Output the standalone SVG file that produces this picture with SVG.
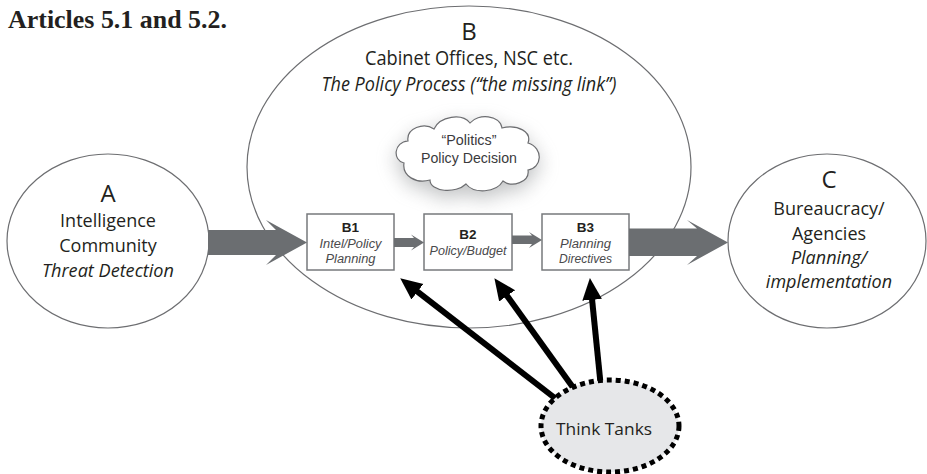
<svg xmlns="http://www.w3.org/2000/svg" width="927" height="474" viewBox="0 0 927 474">
  <style>
    .t { font-family: "Open Sans", "Noto Sans", sans-serif; fill: #231f20; text-anchor: middle; }
    .s { font-family: "Liberation Sans", Arial, sans-serif; text-anchor: middle; }
    .it { font-style: italic; }
    .big { font-size: 24px; }
    .lbl { font-size: 18px; }
    .mid { font-size: 20px; }
    .box { fill: #ffffff; stroke: #77797c; stroke-width: 1.5; }
    .boxhead { font-size: 13.5px; font-weight: bold; fill: #231f20; }
    .boxtxt { font-size: 12px; font-style: italic; fill: #4a4a4c; }
    .cloudtxt { font-size: 15px; fill: #3a3a3c; }
    .oval { fill: #ffffff; stroke: #6d6e71; stroke-width: 1.2; }
    .flow { fill: #6b6e71; }
    .push { stroke: #000000; stroke-width: 6; fill: none; marker-end: url(#head); }
  </style>
  <defs>
    <marker id="head" markerUnits="userSpaceOnUse" markerWidth="24" markerHeight="24" viewBox="0 -10 22 20" refX="9" refY="0" orient="auto">
      <path d="M0,-9 L20,0 L0,9 Z" fill="#000000"/>
    </marker>
    <filter id="glow" x="-50%" y="-50%" width="200%" height="200%">
      <feGaussianBlur stdDeviation="10"/>
    </filter>
  </defs>

  <rect width="927" height="474" fill="#ffffff"/>

  <!-- heading -->
  <text x="8" y="28" font-family="Liberation Serif, serif" font-weight="bold" font-size="25" fill="#231f20" textLength="219" lengthAdjust="spacingAndGlyphs">Articles 5.1 and 5.2.</text>

  <!-- B: policy process -->
  <g id="nodeB">
    <ellipse class="oval" cx="469" cy="167" rx="222" ry="161"/>
    <text class="t big" x="469" y="40">B</text>
    <text class="t mid" x="469" y="65" textLength="208" lengthAdjust="spacingAndGlyphs">Cabinet Offices, NSC etc.</text>
    <text class="t mid it" x="469" y="91" textLength="295" lengthAdjust="spacingAndGlyphs">The Policy Process (“the missing link”)</text>
  </g>

  <!-- cloud with soft drop shadow -->
  <g id="cloud">
    <path d="M404 163 C392 160 394 142 408 141 C406 128 424 122 434 129 C440 116 462 113 470 123 C478 113 500 115 502 128 C518 124 532 132 528 143 C544 148 542 168 528 170 C530 182 512 188 503 181 C496 193 474 194 466 184 C456 194 430 192 430 180 C416 184 402 176 404 163 Z" fill="#8a8d90" opacity="0.55" filter="url(#glow)" transform="translate(0,7)"/>
    <path d="M404 163 C392 160 394 142 408 141 C406 128 424 122 434 129 C440 116 462 113 470 123 C478 113 500 115 502 128 C518 124 532 132 528 143 C544 148 542 168 528 170 C530 182 512 188 503 181 C496 193 474 194 466 184 C456 194 430 192 430 180 C416 184 402 176 404 163 Z" fill="#ffffff" stroke="#6d6e71" stroke-width="1.2"/>
    <text class="s cloudtxt" x="469" y="145" textLength="55" lengthAdjust="spacingAndGlyphs">“Politics”</text>
    <text class="s cloudtxt" x="469" y="163" textLength="96" lengthAdjust="spacingAndGlyphs">Policy Decision</text>
  </g>

  <!-- A: intelligence community -->
  <g id="nodeA">
    <ellipse class="oval" cx="108" cy="241" rx="101" ry="87"/>
    <text class="t big" x="108" y="202">A</text>
    <text class="t lbl" x="108" y="227">Intelligence</text>
    <text class="t lbl" x="108" y="252">Community</text>
    <text class="t lbl it" x="108" y="277" textLength="132" lengthAdjust="spacingAndGlyphs">Threat Detection</text>
  </g>

  <!-- C: bureaucracy -->
  <g id="nodeC">
    <ellipse class="oval" cx="827" cy="241" rx="99" ry="87"/>
    <text class="t big" x="829" y="188">C</text>
    <text class="t lbl" x="829" y="215">Bureaucracy/</text>
    <text class="t lbl" x="829" y="240">Agencies</text>
    <text class="t lbl it" x="829" y="264">Planning/</text>
    <text class="t lbl it" x="829" y="288">implementation</text>
  </g>

  <!-- process boxes -->
  <g id="nodeB1">
    <rect class="box" x="307" y="214" width="87" height="56"/>
    <text class="s boxhead" x="350.5" y="232">B1</text>
    <text class="s boxtxt" x="350.5" y="248" textLength="62" lengthAdjust="spacingAndGlyphs">Intel/Policy</text>
    <text class="s boxtxt" x="350.5" y="263" textLength="50" lengthAdjust="spacingAndGlyphs">Planning</text>
  </g>
  <g id="nodeB2">
    <rect class="box" x="424" y="214" width="88" height="56"/>
    <text class="s boxhead" x="468" y="239">B2</text>
    <text class="s boxtxt" x="468" y="255" textLength="77" lengthAdjust="spacingAndGlyphs">Policy/Budget</text>
  </g>
  <g id="nodeB3">
    <rect class="box" x="542" y="214" width="87" height="56"/>
    <text class="s boxhead" x="585.5" y="232">B3</text>
    <text class="s boxtxt" x="585.5" y="248" textLength="51" lengthAdjust="spacingAndGlyphs">Planning</text>
    <text class="s boxtxt" x="585.5" y="263" textLength="53" lengthAdjust="spacingAndGlyphs">Directives</text>
  </g>

  <!-- connectors -->
  <g id="connectors">
    <polygon class="flow" points="208,230 276,230 266,220 307,242.5 266,265 276,255 208,255"/>
    <polygon class="flow" points="394,238 414,238 411,234.5 424,242.5 411,250.5 414,247 394,247"/>
    <polygon class="flow" points="512,235.5 532,235.5 529,232 542,240 529,248 532,244 512,244"/>
    <polygon class="flow" points="629,228.5 697,228.5 687,220 728,242.5 687,265 697,256 629,256"/>
    <line class="push" x1="560" y1="402" x2="409.7" y2="285.7"/>
    <line class="push" x1="577" y1="393" x2="501.4" y2="287.9"/>
    <line class="push" x1="601" y1="388" x2="591.1" y2="289.9"/>
  </g>

  <!-- think tanks -->
  <g id="thinkTanks">
    <ellipse cx="610" cy="426" rx="69" ry="46" fill="#e6e7e9" stroke="#000000" stroke-width="5" stroke-dasharray="5 4"/>
    <text class="t" x="604" y="435" font-size="17" fill="#3a3a3c" textLength="96" lengthAdjust="spacingAndGlyphs">Think Tanks</text>
  </g>
</svg>
